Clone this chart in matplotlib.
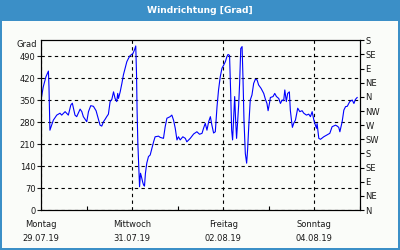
import matplotlib.pyplot as plt
from matplotlib.patches import Rectangle
from matplotlib.ticker import MultipleLocator

# Stunden seit Montag 29.07.19 00:00
stunden = [0, 1.2, 2.6, 3.9, 4.2, 4.7, 5.3, 6.5, 8.3, 10.0, 10.9, 12.7, 14.4, 15.7, 16.5,
           17.9, 18.8, 20.6, 21.5, 22.3, 24.1, 25.0, 26.2, 27.6, 29.0, 30.2, 31.1, 32.0,
           32.9, 33.8, 34.6, 35.5, 36.4, 37.3, 38.2, 39.0, 39.9, 40.4, 40.8, 41.7, 42.6,
           43.4, 44.3, 45.2, 46.1, 46.9, 48.4, 49.2, 49.9, 50.3, 50.6, 51.0, 51.5, 51.9,
           52.4, 52.9, 53.5, 54.0, 54.5, 55.0, 55.7, 56.6, 57.5, 58.4, 59.3, 60.1, 61.9,
           62.8, 64.5, 65.4, 66.3, 68.0, 68.9, 69.8, 70.7, 71.6, 72.4, 73.3, 74.7, 76.0,
           76.8, 78.6, 80.4, 82.1, 83.5, 84.8, 85.6, 86.5, 87.4, 88.3, 89.2, 90.0, 90.9,
           91.8, 92.7, 93.5, 94.4, 95.3, 96.2, 97.1, 97.9, 98.5, 99.3, 99.9, 100.4, 100.9,
           101.5, 102.0, 102.5, 103.0, 103.6, 104.1, 104.6, 105.2, 105.9, 106.4, 106.9,
           107.6, 108.3, 108.8, 109.4, 110.2, 111.1, 112.0, 112.9, 113.8, 114.6, 115.9,
           117.3, 118.2, 119.0, 119.6, 120.3, 120.8, 122.2, 123.1, 124.0, 125.2, 126.1,
           127.0, 127.8, 128.4, 129.2, 129.9, 130.8, 131.3, 131.9, 132.4, 133.1, 134.0,
           135.2, 136.3, 137.5, 138.4, 139.8, 141.0, 141.9, 142.8, 143.7, 144.5, 145.1,
           145.4, 146.3, 147.2, 148.9, 150.7, 152.1, 153.3, 155.1, 156.0, 156.8, 157.4,
           158.6, 159.5, 160.4, 161.3, 162.6, 163.9, 164.8, 165.6, 166.5]
grad = [350, 392, 424, 442, 392, 254, 265, 286, 302, 308, 302, 313, 302, 334, 340,
        302, 297, 321, 313, 297, 281, 313, 332, 330, 316, 289, 270, 267,
        281, 289, 297, 305, 345, 352, 376, 355, 345, 371, 355, 376, 403,
        430, 451, 472, 483, 491, 498, 509, 522, 435, 318, 213, 138, 74,
        117, 106, 90, 80, 76, 117, 149, 170, 175, 196, 217, 233, 235,
        231, 228, 265, 292, 297, 302, 286, 260, 223, 233, 223, 233, 228,
        217, 228, 242, 249, 241, 244, 260, 276, 254, 281, 297, 270, 245,
        249, 329, 382, 424, 451, 461, 472, 488, 495, 492, 371, 254, 223,
        297, 361, 286, 228, 286, 334, 403, 514, 520, 414, 286,
        180, 149, 191, 265, 350, 366, 403, 416, 414, 398, 387,
        371, 352, 339, 316, 339, 358, 361, 371, 361, 355, 339,
        350, 348, 382, 345, 371, 376, 318, 286, 263, 276, 286,
        324, 313, 316, 308, 302, 305, 297, 313, 286, 270, 260,
        275, 228, 225, 233, 239, 244, 265, 270, 267, 263, 249,
        281, 318, 329, 330, 345, 350, 339, 352, 358]

tage = ['Montag\n29.07.19', 'Mittwoch\n31.07.19', 'Freitag\n02.08.19', 'Sonntag\n04.08.19']
richtungen = ['N', 'NE', 'E', 'SE', 'S', 'SW', 'W', 'NW', 'N', 'NE', 'E', 'SE', 'S']

blau = '#3b8fc7'
hinter = '#fafcf9'
txt = '#1a1a1a'
plt.rcParams['font.family'] = 'DejaVu Sans'
plt.rcParams['font.size'] = 6

fig = plt.figure(figsize=(4, 2.5), dpi=100, facecolor=blau)
fig.add_artist(Rectangle((2/400, 2/250), 396/400, 227/250, transform=fig.transFigure,
                         facecolor=hinter, edgecolor='none', zorder=0))
fig.text(0.5, 1 - 10.5/250, 'Windrichtung [Grad]', color='white', fontsize=6.6,
         fontweight='bold', ha='center', va='center')

ax = fig.add_axes([41/400, 40/250, 319/400, 170/250])
ax.set_facecolor(hinter)
ax.plot(stunden, grad, color='#0000ff', lw=0.8)

ax.set_xlim(0, 168)
ax.set_ylim(0, 541)
ax.set_yticks(range(0, 491, 70))
ax.set_xticks([0, 48, 96, 144])
ax.set_xticklabels(tage, color=txt, linespacing=1.7)
ax.xaxis.set_minor_locator(MultipleLocator(24))
ax.tick_params(axis='x', which='major', length=0, pad=7)
ax.tick_params(axis='x', which='minor', length=3, direction='in', width=0.8)
ax.tick_params(axis='y', length=3, width=0.8, pad=1, colors=txt)
ax.grid(True, which='major', color='black', ls=(0, (3, 3)), lw=0.8)
for s in ax.spines.values():
    s.set_linewidth(0.8)
ax.text(-0.012, 528, 'Grad', transform=ax.get_yaxis_transform(), ha='right',
        va='center', color=txt)

ax2 = ax.twinx()
ax2.set_ylim(0, 541)
ax2.set_yticks(range(0, 541, 45))
ax2.set_yticklabels(richtungen, color=txt)
ax2.tick_params(axis='y', length=3, width=0.8, pad=1)
for s in ax2.spines.values():
    s.set_linewidth(0.8)

fig.savefig('out.png', dpi=100, facecolor=blau)
